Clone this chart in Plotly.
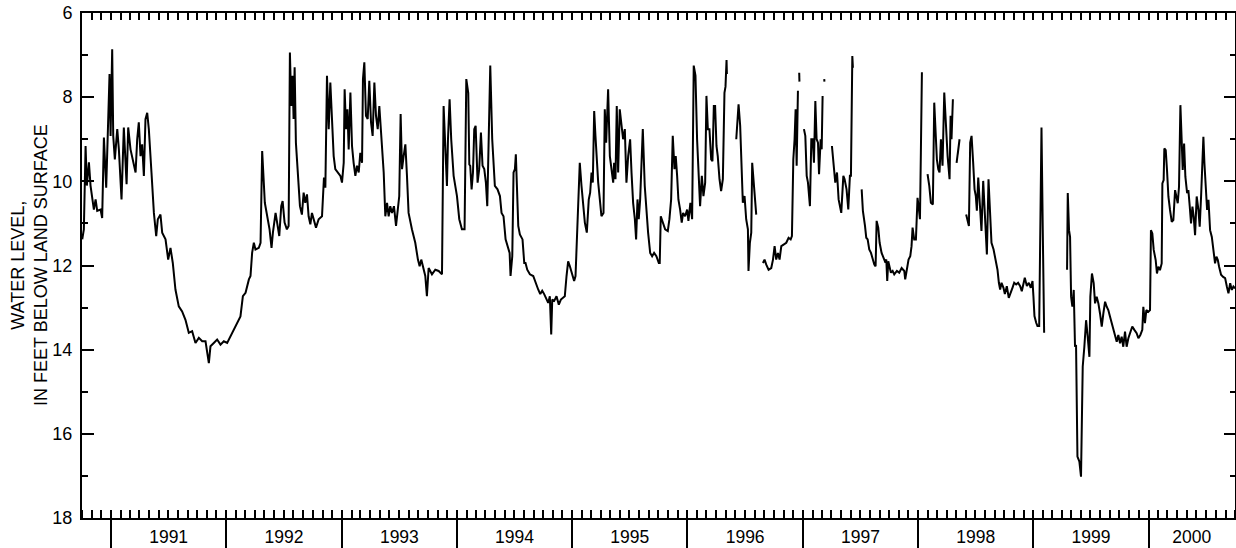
import plotly.graph_objects as go
from datetime import datetime

# Water level, feet below land surface. (decimal year, level); None marks a gap in the record.
wl_1990_1992 = [
    (1990.750, 11.38), (1990.764, 11.14), (1990.779, 9.16), (1990.790, 10.1), (1990.808, 9.55),
    (1990.822, 10.1), (1990.851, 10.67), (1990.866, 10.43), (1990.880, 10.7), (1990.909, 10.67),
    (1990.923, 10.87), (1990.938, 8.96), (1990.958, 10.15), (1990.976, 8.25), (1990.987, 7.45),
    (1990.996, 8.92), (1991.010, 6.86), (1991.019, 8.92), (1991.033, 9.48), (1991.054, 8.76),
    (1991.068, 9.24), (1991.091, 10.43), (1991.111, 8.72), (1991.135, 10.07), (1991.149, 8.72),
    (1991.169, 9.24), (1991.189, 9.48), (1991.213, 9.79), (1991.227, 9.0), (1991.241, 8.6),
    (1991.256, 9.4), (1991.270, 9.12), (1991.285, 9.87), (1991.299, 8.52), (1991.314, 8.37),
    (1991.328, 8.76), (1991.351, 9.79), (1991.372, 10.75), (1991.392, 11.3), (1991.406, 10.9),
    (1991.429, 10.79), (1991.444, 11.22), (1991.473, 11.38), (1991.496, 11.86), (1991.516, 11.58),
    (1991.536, 11.94), (1991.559, 12.57), (1991.588, 12.97), (1991.617, 13.09), (1991.646, 13.29),
    (1991.675, 13.6), (1991.704, 13.56), (1991.733, 13.84), (1991.762, 13.72), (1991.791, 13.8),
    (1991.820, 13.8), (1991.849, 14.32), (1991.863, 13.92), (1991.892, 13.84), (1991.921, 13.76),
    (1991.950, 13.88), (1991.979, 13.8), (1992.008, 13.84), (1992.037, 13.68), (1992.065, 13.52),
    (1992.094, 13.37), (1992.123, 13.21), (1992.144, 12.73), (1992.167, 12.65), (1992.196, 12.33),
    (1992.210, 12.25), (1992.224, 11.7), (1992.239, 11.46), (1992.253, 11.62), (1992.282, 11.58),
    (1992.297, 11.46), (1992.311, 9.28), (1992.334, 10.51), (1992.355, 10.83), (1992.375, 11.14),
    (1992.392, 11.58), (1992.404, 11.22), (1992.427, 10.75),
]

wl_1992_1994 = [
    (1992.438, 10.98), (1992.459, 11.3), (1992.476, 10.59), (1992.488, 10.47), (1992.505, 10.98),
    (1992.525, 11.14), (1992.540, 11.06), (1992.551, 6.94), (1992.563, 8.21), (1992.574, 7.49),
    (1992.583, 8.52), (1992.592, 7.29), (1992.603, 9.08), (1992.621, 9.87), (1992.638, 10.59),
    (1992.655, 10.79), (1992.670, 10.27), (1992.684, 10.51), (1992.699, 10.31), (1992.713, 10.83),
    (1992.728, 11.02), (1992.742, 10.75), (1992.765, 10.98), (1992.777, 11.1), (1992.800, 10.9),
    (1992.829, 10.83), (1992.846, 9.91), (1992.858, 10.15), (1992.872, 7.49), (1992.887, 8.76),
    (1992.901, 7.65), (1992.916, 8.76), (1992.930, 9.4), (1992.944, 9.71), (1992.968, 9.79),
    (1992.988, 9.87), (1993.002, 10.03), (1993.017, 9.56), (1993.025, 7.81), (1993.037, 8.76),
    (1993.049, 8.29), (1993.060, 9.24), (1993.075, 7.89), (1993.089, 9.16), (1993.103, 9.56),
    (1993.118, 9.87), (1993.132, 9.63), (1993.147, 9.79), (1993.161, 9.32), (1993.176, 9.56),
    (1993.184, 7.57), (1993.196, 7.17), (1993.210, 8.44), (1993.225, 8.52), (1993.239, 7.61),
    (1993.254, 8.6), (1993.268, 8.92), (1993.283, 7.65), (1993.297, 8.44), (1993.312, 8.76),
    (1993.326, 8.21), (1993.343, 9.0), (1993.364, 9.79), (1993.378, 10.83), (1993.393, 10.51),
    (1993.407, 10.83), (1993.421, 10.59), (1993.436, 10.75), (1993.453, 10.59), (1993.471, 11.06),
    (1993.488, 10.7), (1993.499, 10.35), (1993.511, 8.4), (1993.523, 9.71), (1993.537, 9.4),
    (1993.552, 9.12), (1993.566, 9.87), (1993.580, 10.75), (1993.609, 11.14), (1993.638, 11.46),
    (1993.661, 11.86), (1993.676, 12.02), (1993.690, 11.86), (1993.711, 12.1), (1993.725, 12.25),
    (1993.739, 12.73), (1993.754, 12.06), (1993.783, 12.21), (1993.812, 12.1), (1993.841, 12.13),
    (1993.870, 12.21), (1993.884, 8.21), (1993.898, 9.32), (1993.913, 10.11), (1993.922, 9.0),
    (1993.936, 8.05), (1993.950, 9.0), (1993.971, 9.87), (1994.000, 10.35), (1994.020, 10.9),
    (1994.043, 11.14), (1994.066, 11.14), (1994.081, 7.57), (1994.098, 7.9),
]

wl_1994_1995 = [
    (1994.107, 9.6), (1994.115, 9.63), (1994.127, 10.19), (1994.139, 9.79), (1994.150, 8.76),
    (1994.162, 8.68), (1994.179, 10.03), (1994.193, 9.71), (1994.208, 8.84), (1994.222, 9.63),
    (1994.237, 9.71), (1994.251, 10.03), (1994.263, 10.59), (1994.277, 8.76), (1994.289, 7.25),
    (1994.306, 9.0), (1994.329, 10.11), (1994.352, 10.19), (1994.373, 10.35), (1994.387, 10.75),
    (1994.404, 10.83), (1994.422, 11.38), (1994.439, 11.54), (1994.457, 11.7), (1994.465, 12.25),
    (1994.480, 11.78), (1994.491, 9.79), (1994.503, 9.71), (1994.511, 9.36), (1994.523, 10.27),
    (1994.532, 11.06), (1994.546, 11.26), (1994.569, 11.38), (1994.584, 11.94), (1994.595, 11.94),
    (1994.610, 12.1), (1994.633, 12.21), (1994.662, 12.25), (1994.682, 12.41), (1994.705, 12.57),
    (1994.723, 12.68), (1994.740, 12.6), (1994.757, 12.68), (1994.777, 12.81), (1994.792, 12.89),
    (1994.806, 12.73), (1994.818, 13.64), (1994.827, 12.81), (1994.844, 12.84), (1994.864, 12.73),
    (1994.884, 12.93), (1994.902, 12.81), (1994.922, 12.77), (1994.936, 12.73), (1994.951, 12.25),
    (1994.965, 11.9), (1994.980, 12.02), (1995.000, 12.25), (1995.017, 12.37), (1995.029, 12.25),
    (1995.046, 11.14), (1995.066, 9.56), (1995.081, 10.11), (1995.095, 10.51), (1995.110, 10.98),
    (1995.127, 11.22), (1995.144, 10.43), (1995.156, 10.27), (1995.168, 9.79), (1995.179, 10.03),
    (1995.191, 8.33), (1995.202, 8.92), (1995.214, 9.63), (1995.226, 10.03), (1995.240, 10.43),
    (1995.254, 10.83), (1995.272, 10.75), (1995.283, 8.29), (1995.295, 9.08), (1995.312, 7.81),
    (1995.327, 9.4), (1995.341, 9.71), (1995.356, 10.03), (1995.364, 9.56), (1995.376, 9.95),
    (1995.387, 8.21), (1995.399, 9.79), (1995.413, 8.29), (1995.428, 8.76), (1995.442, 9.0),
    (1995.457, 8.76), (1995.471, 10.03), (1995.486, 9.4), (1995.503, 9.0), (1995.515, 9.79),
    (1995.529, 10.51), (1995.544, 10.9), (1995.555, 11.38), (1995.567, 10.43), (1995.578, 10.9),
    (1995.590, 10.43), (1995.601, 9.56), (1995.613, 8.76), (1995.630, 10.11), (1995.645, 10.83),
    (1995.659, 11.22), (1995.677, 11.7), (1995.694, 11.78), (1995.711, 11.7), (1995.731, 11.78),
    (1995.752, 11.94), (1995.760, 11.94), (1995.769, 10.83),
]

wl_1995_1997 = [
    (1995.786, 10.98), (1995.807, 11.14), (1995.830, 11.18), (1995.844, 10.9), (1995.859, 10.43),
    (1995.873, 8.92), (1995.888, 9.71), (1995.899, 9.4), (1995.911, 9.87), (1995.922, 10.43),
    (1995.937, 10.67), (1995.951, 10.98), (1995.963, 10.75), (1995.980, 10.83), (1995.998, 10.67),
    (1996.009, 10.94), (1996.026, 10.51), (1996.041, 10.9), (1996.055, 7.25), (1996.070, 7.49),
    (1996.084, 9.0), (1996.096, 9.79), (1996.110, 10.59), (1996.125, 9.87), (1996.139, 10.35),
    (1996.154, 10.03), (1996.165, 7.97), (1996.177, 8.76), (1996.191, 8.76), (1996.206, 9.48),
    (1996.217, 9.52), (1996.229, 8.21), (1996.240, 8.21), (1996.252, 9.16), (1996.263, 9.4),
    (1996.278, 9.95), (1996.292, 10.23), (1996.307, 9.95), (1996.321, 7.9), (1996.330, 7.75),
    (1996.339, 7.12), (1996.342, 7.45),
    (1996.380, None),
    (1996.423, 9.0), (1996.431, 8.52), (1996.443, 8.17), (1996.457, 8.68), (1996.469, 9.71),
    (1996.480, 10.51), (1996.495, 10.35), (1996.509, 10.9), (1996.524, 11.14), (1996.529, 12.13),
    (1996.541, 11.46), (1996.553, 11.22), (1996.561, 9.56), (1996.576, 10.19), (1996.596, 10.79),
    (1996.620, None),
    (1996.654, 11.94), (1996.668, 11.86), (1996.683, 11.98), (1996.703, 12.1), (1996.726, 12.06),
    (1996.741, 11.86), (1996.755, 11.54), (1996.769, 11.86), (1996.784, 11.7), (1996.798, 11.86),
    (1996.813, 11.54), (1996.836, 11.5), (1996.856, 11.46), (1996.876, 11.34), (1996.894, 11.38),
    (1996.905, 11.3), (1996.917, 9.48), (1996.928, 9.0), (1996.937, 8.29), (1996.946, 9.63),
    (1996.957, 7.85),
    (1996.963, None),
    (1996.968, 7.42), (1996.970, 7.63),
    (1996.990, None),
    (1997.009, 8.76), (1997.021, 8.92), (1997.033, 9.87), (1997.044, 10.03), (1997.061, 10.59),
    (1997.073, 9.0), (1997.085, 9.0), (1997.096, 9.56), (1997.108, 8.09), (1997.119, 9.0),
    (1997.131, 9.08), (1997.140, 9.83), (1997.154, 9.0), (1997.163, 9.24), (1997.171, 7.97),
    (1997.178, None),
    (1997.185, 7.57), (1997.187, 7.63),
    (1997.220, None),
    (1997.252, 9.16), (1997.270, 9.79), (1997.281, 10.03), (1997.296, 9.79), (1997.310, 10.43),
    (1997.333, 10.75), (1997.351, 9.87), (1997.362, 9.95), (1997.379, 10.19), (1997.394, 10.67),
    (1997.408, 9.87), (1997.417, 9.87), (1997.423, 8.76), (1997.429, 7.02), (1997.434, 7.3),
    (1997.470, None),
]

wl_1997_1999 = [
    (1997.510, 10.19), (1997.521, 10.71), (1997.539, 11.06), (1997.550, 11.34), (1997.562, 11.38),
    (1997.576, 11.62), (1997.591, 11.7), (1997.605, 11.86), (1997.620, 11.98), (1997.631, 12.02),
    (1997.640, 10.94), (1997.654, 11.1), (1997.666, 11.46), (1997.683, 11.7), (1997.700, 11.82),
    (1997.712, 11.9), (1997.724, 11.86), (1997.732, 12.37), (1997.741, 11.9), (1997.752, 12.02),
    (1997.764, 12.17), (1997.779, 12.13), (1997.793, 12.21), (1997.816, 12.13), (1997.836, 12.17),
    (1997.857, 12.06), (1997.880, 12.13), (1997.888, 12.33), (1997.903, 12.1), (1997.917, 11.86),
    (1997.932, 11.78), (1997.943, 11.54), (1997.952, 11.1), (1997.966, 11.38), (1997.981, 11.38),
    (1997.995, 10.39), (1998.004, 10.59), (1998.016, 10.9), (1998.024, 9.32), (1998.033, 7.41),
    (1998.060, None),
    (1998.082, 9.83), (1998.097, 10.11), (1998.111, 10.51), (1998.128, 10.55), (1998.140, 8.13),
    (1998.151, 8.92), (1998.163, 9.48), (1998.175, 9.71), (1998.186, 9.79), (1998.198, 9.0),
    (1998.212, 9.63), (1998.227, 7.89), (1998.241, 8.76), (1998.256, 9.4), (1998.273, 9.95),
    (1998.282, 8.44), (1998.290, 9.0), (1998.302, 8.05),
    (1998.320, None),
    (1998.334, 9.56), (1998.348, 9.24), (1998.360, 9.0),
    (1998.390, None),
    (1998.417, 10.79), (1998.429, 10.9), (1998.441, 11.06), (1998.452, 9.08), (1998.464, 8.92),
    (1998.478, 9.56), (1998.490, 10.19), (1998.501, 10.35), (1998.510, 10.7), (1998.522, 9.91),
    (1998.536, 10.59), (1998.550, 11.18), (1998.565, 9.99), (1998.579, 10.83), (1998.597, 11.74),
    (1998.611, 9.95), (1998.626, 10.83), (1998.637, 11.46), (1998.655, 11.62), (1998.672, 11.86),
    (1998.689, 12.1), (1998.701, 12.41), (1998.712, 12.57), (1998.724, 12.41), (1998.741, 12.53),
    (1998.753, 12.68), (1998.770, 12.49), (1998.787, 12.77), (1998.805, 12.65), (1998.819, 12.53),
    (1998.834, 12.41), (1998.851, 12.45), (1998.868, 12.41), (1998.886, 12.49), (1998.900, 12.61),
    (1998.915, 12.41), (1998.926, 12.29), (1998.944, 12.49), (1998.961, 12.41), (1998.978, 12.53),
    (1998.993, 12.37), (1999.001, 12.73), (1999.010, 13.2), (1999.025, 13.36), (1999.036, 13.44),
    (1999.051, 13.44), (1999.059, 11.14), (1999.065, 8.76), (1999.071, 8.72), (1999.082, 11.14),
    (1999.094, 13.6),
    (1999.200, None),
]

wl_1999_2000 = [
    (1999.293, 12.1), (1999.299, 10.28), (1999.310, 11.16), (1999.319, 11.32), (1999.328, 12.74),
    (1999.339, 12.98), (1999.351, 12.58), (1999.362, 13.93), (1999.371, 13.89), (1999.383, 16.54),
    (1999.400, 16.66), (1999.414, 17.02), (1999.423, 15.43), (1999.429, 14.4), (1999.443, 13.93),
    (1999.458, 13.3), (1999.472, 13.69), (1999.487, 14.17), (1999.495, 12.74), (1999.509, 12.19),
    (1999.524, 12.42), (1999.536, 12.9), (1999.550, 12.74), (1999.565, 12.9), (1999.579, 13.14),
    (1999.594, 13.45), (1999.608, 13.14), (1999.623, 12.86), (1999.637, 12.98), (1999.651, 13.06),
    (1999.666, 13.22), (1999.680, 13.37), (1999.695, 13.53), (1999.709, 13.61), (1999.724, 13.81),
    (1999.738, 13.65), (1999.753, 13.85), (1999.767, 13.69), (1999.781, 13.93), (1999.796, 13.57),
    (1999.810, 13.93), (1999.825, 13.73), (1999.839, 13.61), (1999.859, 13.45), (1999.877, 13.53),
    (1999.897, 13.61), (1999.912, 13.73), (1999.929, 13.65), (1999.946, 13.53), (1999.955, 12.98),
    (1999.969, 13.37), (1999.981, 13.06), (1999.998, 13.1), (2000.013, 13.06), (2000.021, 11.16),
    (2000.033, 11.24), (2000.045, 11.63), (2000.062, 11.87), (2000.073, 12.19), (2000.085, 12.03),
    (2000.099, 12.11), (2000.114, 11.95), (2000.120, 10.05), (2000.131, 9.97), (2000.137, 9.22),
    (2000.149, 9.26), (2000.160, 9.73), (2000.172, 10.36), (2000.186, 10.68), (2000.201, 10.96),
    (2000.215, 10.92), (2000.230, 10.21), (2000.241, 10.36), (2000.253, 10.52), (2000.264, 10.13),
    (2000.276, 8.19), (2000.287, 9.02), (2000.296, 9.73), (2000.308, 9.1), (2000.319, 9.89),
    (2000.334, 10.28), (2000.345, 10.21), (2000.357, 10.6), (2000.368, 11.0), (2000.380, 10.6),
    (2000.391, 10.84), (2000.403, 11.28), (2000.417, 10.36), (2000.432, 10.68), (2000.443, 11.08),
    (2000.455, 10.36), (2000.467, 9.49), (2000.475, 8.94), (2000.484, 9.57), (2000.496, 10.28),
    (2000.507, 10.68), (2000.519, 10.44), (2000.533, 11.16), (2000.548, 11.32), (2000.562, 11.67),
    (2000.576, 11.95), (2000.588, 11.79), (2000.600, 11.87), (2000.611, 12.03), (2000.628, 12.22),
    (2000.646, 12.27), (2000.663, 12.3), (2000.678, 12.5), (2000.692, 12.66), (2000.707, 12.42),
    (2000.721, 12.58), (2000.735, 12.5), (2000.750, 12.54),
]

year_labels = ["1991", "1992", "1993", "1994", "1995", "1996", "1997", "1998", "1999", "2000"]
y_major = [6, 8, 10, 12, 14, 16, 18]
y_minor = [7, 9, 11, 13, 15, 17]

blocks = [wl_1990_1992, wl_1992_1994, wl_1994_1995, wl_1995_1997, wl_1997_1999, wl_1999_2000]


def to_date(t):
    yr = int(t)
    start = datetime(yr, 1, 1)
    span = datetime(yr + 1, 1, 1) - start
    return start + span * (t - yr)


xs, ys = [], []
for blk in blocks:
    for t, v in blk:
        xs.append(to_date(t))
        ys.append(v)

X0 = datetime(1990, 10, 1)
X1 = datetime(2000, 10, 1)

month_ticks = []
for i in range(121):
    m = 9 + i
    month_ticks.append(datetime(1990 + m // 12, m % 12 + 1, 1))

year_starts = [datetime(int(y), 1, 1) for y in year_labels]
label_pos = []
for y in year_labels:
    a = max(datetime(int(y), 1, 1), X0)
    b = min(datetime(int(y) + 1, 1, 1), X1)
    label_pos.append(a + (b - a) / 2)

FONT = "Liberation Sans, Arial, Helvetica, sans-serif"

fig = go.Figure()
fig.add_trace(go.Scatter(
    x=xs, y=ys, mode="lines", connectgaps=False,
    line=dict(color="black", width=2), showlegend=False, hoverinfo="skip",
))
# invisible helper traces so the overlay axes (year ticks, top ticks, right ticks) are drawn
invisible = dict(mode="markers", marker=dict(opacity=0, size=1), showlegend=False, hoverinfo="skip")
fig.add_trace(go.Scatter(x=[X0, X1], y=[12, 12], xaxis="x2", yaxis="y", **invisible))
fig.add_trace(go.Scatter(x=[X0, X1], y=[12, 12], xaxis="x3", yaxis="y", **invisible))
fig.add_trace(go.Scatter(x=[X0, X1], y=[12, 12], xaxis="x", yaxis="y2", **invisible))

common_x = dict(type="date", range=[X0, X1], showgrid=False, zeroline=False, automargin=False)
tick_style = dict(tickcolor="black", tickwidth=2)

fig.update_layout(
    width=1236, height=548,
    margin=dict(l=82, r=1, t=13, b=30, pad=0, autoexpand=False),
    paper_bgcolor="white", plot_bgcolor="white",
    font=dict(family=FONT, size=18, color="black"),
    xaxis=dict(
        **common_x, tickmode="array", tickvals=label_pos, ticktext=year_labels,
        ticks="", showline=True, linecolor="black", linewidth=2, mirror=False,
        ticklabelstandoff=2, tickfont=dict(family=FONT, size=17.5, color="black"),
        minor=dict(tickmode="array", tickvals=month_ticks, ticks="inside", ticklen=8, **tick_style),
    ),
    xaxis2=dict(
        **common_x, overlaying="x", anchor="y", side="bottom", tickmode="array",
        tickvals=year_starts, ticks="outside", ticklen=32, showticklabels=False, showline=False,
        **tick_style,
    ),
    xaxis3=dict(
        **common_x, overlaying="x", anchor="y", side="top", tickmode="array",
        tickvals=month_ticks, ticks="inside", ticklen=7, showticklabels=False,
        showline=True, linecolor="black", linewidth=2, **tick_style,
    ),
    yaxis=dict(
        range=[18, 6], tickmode="array", tickvals=y_major, ticktext=[str(v) for v in y_major],
        ticks="inside", ticklen=12, showline=True, linecolor="black", linewidth=2,
        showgrid=False, zeroline=False, ticklabelstandoff=4, automargin=False, **tick_style,
        minor=dict(tickmode="array", tickvals=y_minor, ticks="inside", ticklen=6, **tick_style),
    ),
    yaxis2=dict(
        range=[18, 6], overlaying="y", anchor="x", side="right", tickmode="array",
        tickvals=y_major, ticks="inside", ticklen=11, showticklabels=False,
        showline=True, linecolor="black", linewidth=2, showgrid=False, zeroline=False,
        automargin=False, **tick_style,
        minor=dict(tickmode="array", tickvals=y_minor, ticks="inside", ticklen=5, **tick_style),
    ),
    annotations=[dict(
        text="WATER LEVEL,<br>IN FEET BELOW LAND SURFACE", textangle=-90,
        xref="paper", yref="paper", x=(29.5 - 82) / 1153, y=0.5,
        xanchor="center", yanchor="middle", showarrow=False,
        font=dict(family=FONT, size=18, color="black"),
    )],
)

fig.write_html(
    "out.html",
    config={"displayModeBar": False},
    post_script="document.body.style.margin='0';document.body.style.overflow='hidden';",
)
